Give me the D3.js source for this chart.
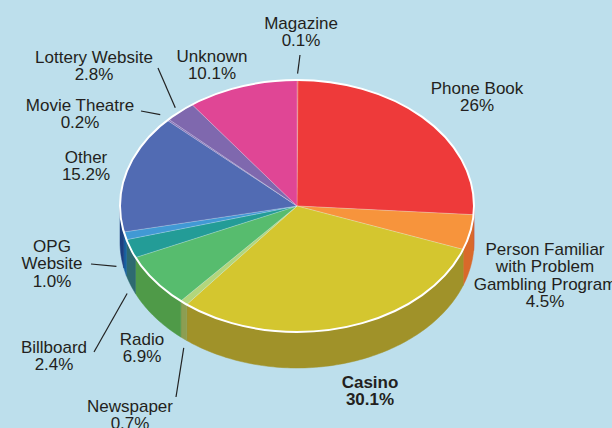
<!DOCTYPE html>
<html>
<head>
<meta charset="utf-8">
<script src="https://cdn.jsdelivr.net/npm/d3@7"></script>
<style>
  html, body { margin: 0; padding: 0; background: #bddfec; }
  svg { display: block; }
</style>
</head>
<body>
<div id="chart"></div>
<script>
// data, clockwise from 12 o'clock
const sources = ["Magazine", "Phone Book", "Person Familiar with Problem Gambling Program", "Casino",
  "Newspaper", "Radio", "Billboard", "OPG Website", "Other", "Movie Theatre", "Lottery Website", "Unknown"];
const shares = [0.1, 26, 4.5, 30.1, 0.7, 6.9, 2.4, 1.0, 15.2, 0.2, 2.8, 10.1];
const labelLines = [["Magazine", "0.1%"], ["Phone Book", "26%"],
  ["Person Familiar", "with Problem", "Gambling Program", "4.5%"], ["Casino", "30.1%"],
  ["Newspaper", "0.7%"], ["Radio", "6.9%"], ["Billboard", "2.4%"], ["OPG", "Website", "1.0%"],
  ["Other", "15.2%"], ["Movie Theatre", "0.2%"], ["Lottery Website", "2.8%"], ["Unknown", "10.1%"]];

const topColors = ["#e24a4a", "#ee3a3a", "#f7943c", "#d4c62f", "#b2d67c", "#57bc6e",
  "#239c97", "#4199d4", "#516bb3", "#8a70b8", "#7f68ae", "#e04695"];
const sideColors = ["#b83030", "#c02a2a", "#d9692a", "#a09229", "#8c9e52", "#4f9a48",
  "#2e6a70", "#1a62a0", "#1d3f80", "#5e4d86", "#5e4d86", "#a83470"];

// label layout: text x, first baseline, leader outer end, leader inner radial factor + drop
const layout = [
  { x: 301, y: 29, lead: [300, 55], k: 1.05, dy: 0 },
  { x: 477, y: 94 },
  { x: 545, y: 255 },
  { x: 370, y: 388, bold: true },
  { x: 130, y: 412, lead: [176, 397], k: 1.0, dy: 45 },
  { x: 142, y: 345 },
  { x: 54, y: 353, lead: [94, 352], k: 1.02, dy: 44 },
  { x: 52, y: 252, lead: [91, 264], k: 1.05, dy: 29 },
  { x: 86, y: 163 },
  { x: 80, y: 111, lead: [141, 111], k: 1.06, dy: 0 },
  { x: 94, y: 63, lead: [158, 68], k: 1.04, dy: 0 },
  { x: 212, y: 62 }
];

const W = 612, H = 428;
const cx = 297, cy = 206, rx = 177, ry = 126, depth = 36;

const svg = d3.select("#chart").append("svg")
  .attr("width", W).attr("height", H);

svg.append("rect").attr("width", W).attr("height", H).attr("fill", "#bddfec");

const pie = d3.pie().sort(null).value(d => d)(shares);

// point on the tilted ellipse, angle clockwise from top
const pt = (a, k = 1) => [cx + rx * k * Math.sin(a), cy - ry * k * Math.cos(a)];

// side walls (front half only)
const sides = svg.append("g");
pie.forEach((p, i) => {
  const a0 = Math.max(p.startAngle, Math.PI / 2);
  const a1 = Math.min(p.endAngle, 3 * Math.PI / 2);
  if (a1 <= a0) return;
  const n = Math.max(2, Math.ceil((a1 - a0) / 0.02));
  const angs = d3.range(n + 1).map(j => a0 + (a1 - a0) * j / n);
  const topPts = angs.map(a => pt(a));
  const botPts = angs.slice().reverse().map(a => { const q = pt(a); return [q[0], q[1] + depth]; });
  sides.append("path")
    .attr("d", d3.line()(topPts.concat(botPts)) + "Z")
    .attr("fill", sideColors[i])
    .attr("stroke", sideColors[i])
    .attr("stroke-width", 0.5);
});

// top face
const arc = d3.arc().innerRadius(0).outerRadius(1);
const topFace = svg.append("g").attr("transform", `translate(${cx},${cy}) scale(${rx},${ry})`);
topFace.selectAll("path")
  .data(pie)
  .join("path")
  .attr("d", arc)
  .attr("fill", (d, i) => topColors[i])
  .attr("stroke", "rgba(255,255,255,0.35)")
  .attr("stroke-width", 0.6)
  .attr("vector-effect", "non-scaling-stroke");

svg.append("ellipse")
  .attr("cx", cx).attr("cy", cy).attr("rx", rx).attr("ry", ry)
  .attr("fill", "none").attr("stroke", "#ffffff").attr("stroke-width", 2);

// leaders
pie.forEach((p, i) => {
  const l = layout[i];
  if (!l.lead) return;
  const mid = (p.startAngle + p.endAngle) / 2;
  const inner = pt(mid, l.k);
  svg.append("line")
    .attr("x1", l.lead[0]).attr("y1", l.lead[1])
    .attr("x2", inner[0]).attr("y2", inner[1] + l.dy)
    .attr("stroke", "#222").attr("stroke-width", 1.2);
});

// labels
labelLines.forEach((lines, i) => {
  const l = layout[i];
  const t = svg.append("text")
    .attr("x", l.x).attr("y", l.y)
    .attr("text-anchor", "middle")
    .attr("fill", "#231f20")
    .style("font-family", "'Liberation Sans', Arial, Helvetica, sans-serif")
    .style("font-size", "17px")
    .style("font-weight", l.bold ? "bold" : "normal");
  lines.forEach((s, j) => {
    t.append("tspan").attr("x", l.x).attr("dy", j === 0 ? 0 : 17.3).text(s);
  });
});
</script>
</body>
</html>
